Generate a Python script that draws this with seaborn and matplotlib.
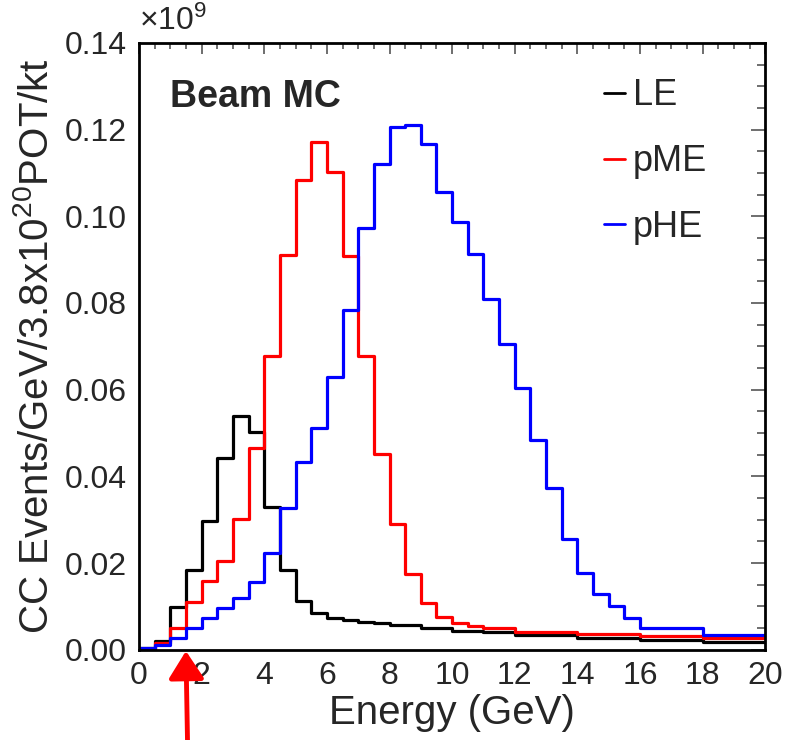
import numpy as np
import pandas as pd
import matplotlib
matplotlib.use("Agg")
import matplotlib.pyplot as plt
from matplotlib.lines import Line2D
from matplotlib.ticker import MultipleLocator, FormatStrFormatter
import seaborn as sns

sns.set_theme(style="white")
plt.rcParams['font.family'] = ['Liberation Sans', 'DejaVu Sans']
plt.rcParams['mathtext.fontset'] = 'custom'
plt.rcParams['mathtext.rm'] = 'Liberation Sans'
plt.rcParams['mathtext.it'] = 'Liberation Sans:italic'

# bin edges (GeV): 0.5 GeV bins up to 16, then two 2 GeV bins
edges = list(np.arange(0, 16.5, 0.5)) + [18, 20]

beams = ["LE", "pME", "pHE"]
colors = {"LE": "black", "pME": "red", "pHE": "blue"}

# CC events / GeV / 3.8e20 POT / kt  (x1e9), one value per bin
le = [0.0004, 0.0019, 0.0098, 0.0185, 0.0298, 0.0442, 0.0540, 0.0503,
      0.0330, 0.0185, 0.0112, 0.0085, 0.0074, 0.0069, 0.0065, 0.0062,
      0.0058, 0.0058, 0.0050, 0.0050, 0.0044, 0.0044, 0.0040, 0.0040,
      0.0034, 0.0034, 0.0034, 0.0034, 0.0026, 0.0026, 0.0026, 0.0026,
      0.0022, 0.0018]
pme = [0.0002, 0.0015, 0.0050, 0.0111, 0.0158, 0.0205, 0.0301, 0.0465,
       0.0678, 0.0910, 0.1084, 0.1172, 0.1102, 0.0909, 0.0678, 0.0452,
       0.0290, 0.0174, 0.0108, 0.0075, 0.0062, 0.0055, 0.0049, 0.0049,
       0.0042, 0.0042, 0.0042, 0.0042, 0.0036, 0.0036, 0.0036, 0.0036,
       0.0031, 0.0027]
phe = [0.0004, 0.0012, 0.0027, 0.0050, 0.0073, 0.0096, 0.0119, 0.0156,
       0.0222, 0.0328, 0.0433, 0.0512, 0.0630, 0.0784, 0.0973, 0.1120,
       0.1205, 0.1210, 0.1167, 0.1056, 0.0986, 0.0913, 0.0810, 0.0706,
       0.0604, 0.0484, 0.0373, 0.0255, 0.0178, 0.0129, 0.0100, 0.0073,
       0.0050, 0.0034]

centres = [(a + b) / 2 for a, b in zip(edges[:-1], edges[1:])]
df = pd.DataFrame({
    "Energy": centres * 3,
    "Events": le + pme + phe,
    "Beam": [b for b in beams for _ in centres],
})

fig = plt.figure(figsize=(7.85, 7.4), dpi=100)
ax = fig.add_axes([0.177, 0.122, 0.798, 0.820])

for beam in beams:
    sns.histplot(data=df[df["Beam"] == beam], x="Energy", weights="Events",
                 bins=edges, element="step", fill=False, color=colors[beam],
                 linewidth=2.3, ax=ax)

ax.set_xlim(0, 20)
ax.set_ylim(0, 0.14)
ax.xaxis.set_major_locator(MultipleLocator(2))
ax.xaxis.set_minor_locator(MultipleLocator(0.5))
ax.yaxis.set_major_locator(MultipleLocator(0.02))
ax.yaxis.set_minor_locator(MultipleLocator(0.005))
ax.yaxis.set_major_formatter(FormatStrFormatter('%.2f'))
ax.tick_params(which='both', direction='in', top=True, right=True,
               color='#555555', width=1.2, labelsize=23)
ax.tick_params(axis='x', which='major', length=8, pad=8)
ax.tick_params(axis='x', which='minor', length=4)
ax.tick_params(axis='y', which='major', length=10, pad=9)
ax.tick_params(axis='y', which='minor', length=6)
for sp in ax.spines.values():
    sp.set_linewidth(2)
    sp.set_color('black')

ax.set_xlabel("Energy (GeV)", fontsize=29, labelpad=2)
ax.set_ylabel(r"CC Events/GeV/3.8x10$^{20}$POT/kt", fontsize=29, labelpad=6)

fig.text(0.177, 0.950, r"$\times$10$^{9}$", fontsize=23, ha='left', va='bottom')
ax.text(0.05, 0.94, "Beam MC", transform=ax.transAxes, fontsize=27,
        fontweight='bold', ha='left', va='top')

handles = [Line2D([], [], color=colors[b], linewidth=2) for b in beams]
ax.legend(handles, beams, loc='upper left', bbox_to_anchor=(0.69, 0.995),
          frameon=False, fontsize=26, handlelength=0.6, handletextpad=0.2,
          labelspacing=0.85)

# red arrow below the axis at 1.5 GeV
ax.annotate("", xy=(1.5, -0.0003), xycoords='data',
            xytext=(1.55, 0.0), textcoords=('data', 'figure fraction'),
            arrowprops=dict(arrowstyle='-|>,head_length=0.7,head_width=0.45',
                            color='red', lw=3.5, mutation_scale=24,
                            shrinkA=0, shrinkB=0),
            annotation_clip=False)

fig.savefig("out.png", dpi=100, facecolor='white')
